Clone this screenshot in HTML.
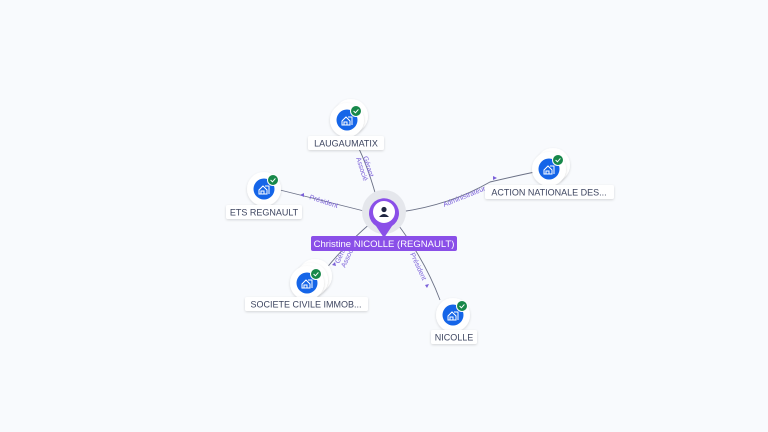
<!DOCTYPE html>
<html><head><meta charset="utf-8"><style>
body{margin:0;background:#f8fafd;font-family:"Liberation Sans",sans-serif;}
svg{display:block}
.lb{font-size:9px;fill:#3d4560;}
.el{font-size:7px;fill:#7b61d9;}
</style></head><body>
<svg width="768" height="432" viewBox="0 0 768 432">
<defs>
<filter id="sh" x="-50%" y="-50%" width="200%" height="200%"><feDropShadow dx="0" dy="1" stdDeviation="1.2" flood-color="#000" flood-opacity="0.15"/></filter>
<g id="co">
<circle r="17" fill="#fff" filter="url(#sh)"/>
<circle r="10.5" fill="#1565e8"/>
<path d="M-5 1 L-1 -3 L3 1 V5 H-5 Z M-3 5 V2 H0 V5 M1 -3 H5 V5" fill="none" stroke="#fff" stroke-width="1"/>
<circle cx="9" cy="-9" r="5.5" fill="#18884a" stroke="#fff" stroke-width="1"/>
<path d="M6.6 -9 L8.4 -7.2 L11.4 -10.6" fill="none" stroke="#fff" stroke-width="1"/>
</g>
</defs>
<g fill="none" stroke="#6b7186" stroke-width="0.9">
<path d="M376 196 Q366 160 352 135"/>
<path d="M368 212 Q320 200 280 190"/>
<path d="M400 212 Q450 205 490 182 Q520 175 535 172"/>
<path d="M372 222 Q345 245 325 270"/>
<path d="M396 222 Q425 260 440 300"/>
</g>
<g fill="#7b61d9">
<path d="M358 143 l2 4 l-4 0z"/>
<path d="M300 195 l4 -2 l0 4z"/>
<path d="M497 178 l-4 -2 l0 4z"/>
<path d="M332 265 l3 -3 l1 4z"/>
<path d="M427 288 l-2 -3 l4 -1z"/>
</g>
<text class="el" transform="translate(363,157) rotate(72)">Gérant</text>
<text class="el" transform="translate(356,158) rotate(72)">Associé</text>
<text class="el" transform="translate(309,199) rotate(18)">Président</text>
<text class="el" transform="translate(444,207) rotate(-22)">Administrateur</text>
<text class="el" transform="translate(339,264) rotate(-65)">Gérant</text>
<text class="el" transform="translate(345,268) rotate(-65)">Associé</text>
<text class="el" transform="translate(410,254) rotate(65)">Président</text>

<circle cx="384" cy="212" r="22" fill="#e5e7ec"/>
<path d="M384 238 L376 226 A15 15 0 1 1 392 226 Z" fill="#8a4fe8"/>
<circle cx="384" cy="212" r="11" fill="#fff"/>
<circle cx="384" cy="209.5" r="2.6" fill="#1f2640"/>
<path d="M379 217 Q384 211 389 217 Z" fill="#1f2640"/>
<rect x="311" y="236" width="146" height="15" rx="2" fill="#8a4fe8"/>
<text x="384" y="247" text-anchor="middle" font-size="9.5" fill="#fff">Christine NICOLLE (REGNAULT)</text>

<circle cx="351" cy="116" r="17" fill="#fff" filter="url(#sh)"/>
<use href="#co" x="347" y="120"/>
<rect x="308" y="136" width="76" height="14" rx="2" fill="#fff" filter="url(#sh)"/>
<text class="lb" x="346" y="146.5" text-anchor="middle">LAUGAUMATIX</text>

<use href="#co" x="264" y="189"/>
<rect x="226" y="205" width="76" height="14" rx="2" fill="#fff" filter="url(#sh)"/>
<text class="lb" x="264" y="215.5" text-anchor="middle">ETS REGNAULT</text>

<circle cx="553" cy="165" r="17" fill="#fff" filter="url(#sh)"/>
<use href="#co" x="549" y="169"/>
<rect x="485" y="185" width="129" height="14" rx="2" fill="#fff" filter="url(#sh)"/>
<text class="lb" x="549" y="195.5" text-anchor="middle">ACTION NATIONALE DES...</text>

<circle cx="315" cy="276" r="17" fill="#fff" filter="url(#sh)"/>
<circle cx="311" cy="280" r="17" fill="#fff" filter="url(#sh)"/>
<use href="#co" x="307" y="283"/>
<rect x="245" y="297" width="123" height="14" rx="2" fill="#fff" filter="url(#sh)"/>
<text class="lb" x="306" y="307.5" text-anchor="middle">SOCIETE CIVILE IMMOB...</text>

<use href="#co" x="453" y="315"/>
<rect x="431" y="330" width="46" height="14" rx="2" fill="#fff" filter="url(#sh)"/>
<text class="lb" x="454" y="340.5" text-anchor="middle">NICOLLE</text>
</svg>
</body></html>
